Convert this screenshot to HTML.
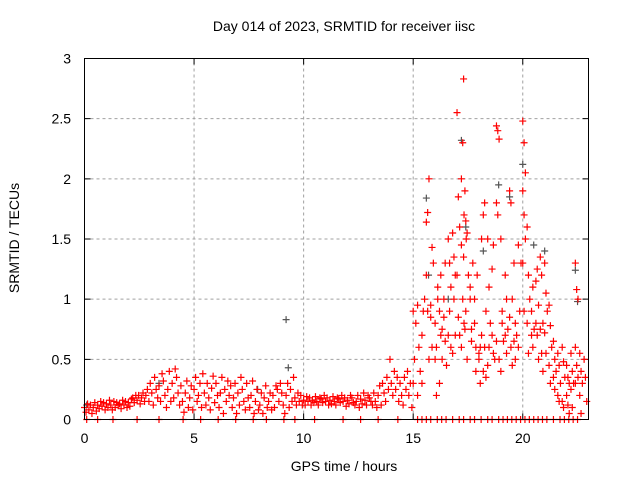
<!DOCTYPE html>
<html><head><meta charset="utf-8"><style>
body{margin:0;background:#fff}
svg{display:block;font-family:"Liberation Sans",sans-serif}
</style></head><body>
<svg id="chart" width="640" height="480">
<text x="344" y="31" font-size="14" text-anchor="middle">Day 014 of 2023, SRMTID for receiver iisc</text>
<text x="344" y="471" font-size="14" text-anchor="middle">GPS time / hours</text>
<text transform="translate(19,238) rotate(-90)" font-size="14" text-anchor="middle">SRMTID / TECUs</text>
<g id="grid"></g><g id="ticks"></g><g id="marks"></g>
<rect x="84.5" y="58.5" width="504" height="361" fill="none" stroke="#000"/>
</svg>
<script>
const xTicks=[0,5,10,15,20];
const yTicks=[0,0.5,1,1.5,2,2.5,3];
const yTickLabels=["0","0.5","1","1.5","2","2.5","3"];
const lowTimes=[0,0.2,0.4,0.6,0.8,1,1.2,1.4,1.6,1.8,2,2.2,2.4,2.6,2.8,3,3.2,3.4,3.6,3.8,4,4.2,4.4,4.6,4.8,5,5.2,5.4,5.6,5.8,6,6.2,6.4,6.6,6.8,7,7.2,7.4,7.6,7.8,8,8.2,8.4,8.6,8.8,9,9.2,9.4,9.6,9.8,10,10.2,10.4,10.6,10.8,11,11.2,11.4,11.6,11.8,12,12.2,12.4,12.6,12.8,13,13.2,13.4,13.6,13.8,14,14.2,14.4,14.6,14.8];
const lowValues=[[.1,.06,.13],[.08,.12,.05],[.1,.14,.07],[.12,.09,.15],[.11,.14,.08],[.13,.1,.16],[.12,.08,.15],[.1,.14,.12],[.13,.09,.16],[.12,.15,.1],[.14,.11,.17],[.18,.14,.2],[.16,.2,.13],[.18,.22,.15],[.2,.25,.15],[.3,.22,.12],[.35,.25,.18],[.28,.15,.38],[.32,.2,.1],[.25,.4,.15],[.3,.18,.42],[.35,.22,.12],[.28,.15,.06],[.22,.32,.1],[.18,.28,.08],[.25,.35,.15],[.2,.3,.1],[.38,.22,.12],[.3,.18,.08],[.26,.36,.14],[.3,.2,.1],[.22,.35,.05],[.25,.15,.32],[.2,.28,.1],[.18,.3,.05],[.22,.12,.35],[.25,.15,.08],[.3,.18,.1],[.2,.32,.05],[.15,.25,.08],[.12,.22,.05],[.18,.28,.1],[.15,.22,.08],[.2,.1,.28],[.25,.15,.3],[.22,.12,.05],[.2,.3,.1],[.25,.15,.35],[.18,.12,.22],[.15,.2,.12],[.16,.12,.19],[.15,.18,.12],[.16,.14,.19],[.15,.12,.18],[.17,.14,.2],[.15,.18,.12],[.16,.13,.19],[.15,.12,.18],[.17,.14,.2],[.15,.18,.11],[.16,.13,.2],[.18,.14,.12],[.15,.2,.1],[.17,.13,.22],[.16,.12,.2],[.18,.15,.12],[.22,.15,.1],[.2,.28,.12],[.3,.22,.15],[.35,.25,.5],[.3,.2,.4],[.25,.35,.15],[.3,.2,.12],[.35,.25,.4],[.2,.3,.1]];
const hiTimes=[15,15.2,15.4,15.6,15.8,16,16.2,16.4,16.6,16.8,17,17.2,17.3,17.4,17.6,17.8,18,18.2,18.4,18.6,18.8,19,19.2,19.4,19.6,19.8,20,20.2,20.4,20.6,20.8,21,21.2,21.4,21.6,21.8,22,22.2,22.4,22.6,22.8];
const hiValues=[[.3,.5,.8,.9],[.95,.6,.4,.2],[.7,.9,1,.3],[1.64,1.72,2,1.2,.9,.5],[.85,.6,1.3,.95,1.43],[.8,.6,1,.5,.2,1.1],[.9,.7,.5,.3,1.2,.75],[1,.65,.45,.85,1.3],[.7,.9,1.1,1.5,1.3,.6],[1.55,1,.7,.55,1.35,1.2],[2.55,1.85,1.6,1.2,.85,.7],[2,2.3,1.7,1.45,1,.8,.6],[2.83,1.9,1.5,1.35,.75],[1.65,1.55,1.2,.9,.5],[1,.75,1.3,1.1,.65],[.8,.6,1.2,1,.4],[.5,.3,.7,.55,.6,1.5],[.4,.6,.35,1.7,1.8,.9],[1.5,1.1,.8,.45,.6],[.7,.55,.5,1.25,1.45],[2.44,2.4,2.33,1.8,1.7,.5,.65],[1.5,.9,.65,.4,.8],[1.2,1,.75,.7,.55],[1.9,1.8,1,.85,.6,.45],[1.3,.8,.7,.65,.5],[.6,.9,1.3,1.45],[2.48,2.3,2.05,1.9,1.7,1.5,1.3,.9],[1.6,1.2,1,.8,.55],[.9,1.1,.75,.7,.6],[1.15,1.25,.95,.8,.7,.5],[1.35,1.2,.8,.75,.55,.4],[1.3,1.05,.9,.72,.55],[.95,.78,.6,.45,.3],[.65,.5,.4,.35,.25],[.55,.45,.3,.2,.15],[.6,.48,.35,.15,.1],[.45,.35,.3,.2,.12,.05],[.55,.4,.3,.25,.1],[1.3,1.08,1,.6,.45,.35,.3],[.55,.4,.3,.2,.05],[.5,.35,.15]];
const zeroTimes=[0.1,0.6,1.3,2.4,3.4,4.5,5.3,6.1,6.9,7.7,8.3,9.1,9.6,10.5,11.8,12.6,13.4,14.3,15.2,15.4,15.6,15.8,16.1,16.3,16.5,16.8,17.1,17.3,17.6,17.8,18.1,18.4,18.6,18.9,19.1,19.3,19.5,19.7,19.9,20.1,20.3,20.5,20.7,20.9,21.1,21.4,21.7,21.9,22.1,22.3,22.5];
const grayTimes=[9.2,9.3,15.6,15.7,17.2,17.4,18.9,19.4,20,20.5,21,22.4,22.5,16.6,18.2,0.1,3.4,7.9];
const grayValues=[0.83,0.43,1.84,1.2,2.32,1.6,1.95,1.85,2.12,1.45,1.4,1.24,0.98,1.0,1.4,0.12,0.3,0.25];
const X0=84.5,X1=588.5,Y0=419.5,Y1=58.5,XMAX=23;
const sx=t=>X0+t/XMAX*(X1-X0);
const sy=v=>Y0-v/3*(Y0-Y1);
const NS='http://www.w3.org/2000/svg';
const grid=document.getElementById('grid'),ticks=document.getElementById('ticks'),marks=document.getElementById('marks');
function mk(tag,attrs,parent){const e=document.createElementNS(NS,tag);for(const k in attrs)e.setAttribute(k,attrs[k]);parent.appendChild(e);return e;}
xTicks.forEach(t=>{const x=sx(t);
 if(t>0){const g=mk('line',{x1:x,x2:x,y1:Y0,y2:Y1,stroke:'#a0a0a0','stroke-dasharray':'3,3'},grid);
 
 }
 const tk=mk('path',{d:`M${x},${Y0}v-6M${x},${Y1}v6`,stroke:'#000'},ticks);
 
 
 const l=mk('text',{x:x,y:443,'font-size':14,'text-anchor':'middle'},ticks);l.textContent=t;
 
 });
yTicks.forEach((v,i)=>{const y=sy(v);
 if(v>0&&v<3){const g=mk('line',{x1:X0,x2:X1,y1:y,y2:y,stroke:'#a0a0a0','stroke-dasharray':'3,3'},grid);
 
 }
 const tk=mk('path',{d:`M${X0},${y}h6M${X1},${y}h-6`,stroke:'#000'},ticks);
 
 
 const l=mk('text',{x:71,y:y+5,'font-size':14,'text-anchor':'end'},ticks);l.textContent=yTickLabels[i];
 
 });
function cross(t,v,color,name){const x=sx(t),y=sy(v);
 const p=mk('path',{d:`M${x-3.5},${y}h7M${x},${y-3.5}v7`,stroke:color,'stroke-width':1.2},marks);
 
 }
grayTimes.forEach((t,i)=>cross(t,grayValues[i],'#555','gray-point'));
lowTimes.forEach((t,i)=>lowValues[i].forEach((v,j)=>cross(t+j*0.07,v,'#f00','red-point')));
hiTimes.forEach((t,i)=>hiValues[i].forEach((v,j)=>cross(t+(j%3)*0.06,v,'#f00','red-point')));
zeroTimes.forEach(t=>{cross(t,0,'#f00','zero-point');});
</script>
</body></html>
